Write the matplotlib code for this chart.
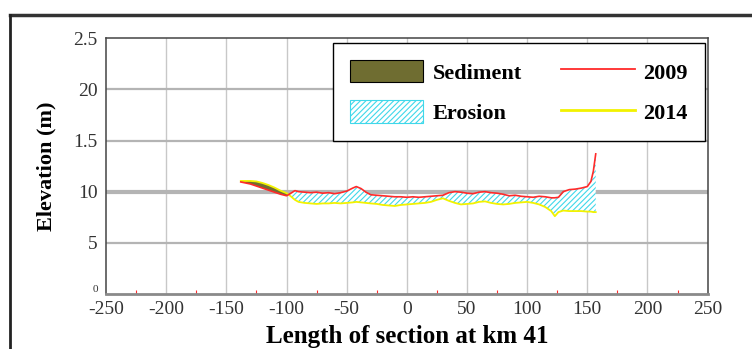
#!/usr/bin/env python3
"""Cross-section elevation at km 41: 2009 vs 2014 with sediment / erosion areas"""

import matplotlib

matplotlib.use("Agg")
import matplotlib.pyplot as plt
from matplotlib.lines import Line2D
from matplotlib.patches import Patch

# stations along the section (m) and bed elevation for each survey (m)
STATIONS = [
    -138, -130, -125, -120, -115, -110, -105, -100, -97, -93, -90, -85, -80,
    -75, -70, -65, -60, -55, -50, -45, -42, -38, -34, -30, -25, -20, -15, -10,
    -5, 0, 5, 10, 15, 20, 25, 30, 35, 40, 45, 50, 55, 60, 65, 70, 75, 80, 85,
    90, 95, 100, 105, 110, 115, 120, 123, 126, 130, 135, 140, 145, 150, 153,
    155, 157,
]
Z_2009 = [
    10.95, 10.75, 10.55, 10.35, 10.15, 9.95, 9.75, 9.6, 9.8, 10.1, 10.0, 9.95,
    9.9, 9.95, 9.85, 9.9, 9.8, 9.9, 10.05, 10.35, 10.5, 10.3, 9.95, 9.7, 9.65,
    9.6, 9.55, 9.5, 9.5, 9.45, 9.5, 9.45, 9.5, 9.55, 9.6, 9.65, 9.9, 10.0,
    9.95, 9.85, 9.8, 9.95, 10.0, 9.9, 9.85, 9.75, 9.6, 9.65, 9.55, 9.5, 9.45,
    9.55, 9.5, 9.4, 9.4, 9.45, 10.0, 10.2, 10.25, 10.35, 10.5, 11.0, 12.0,
    13.7,
]
Z_2014 = [
    11.05, 11.05, 11.0, 10.85, 10.65, 10.4, 10.1, 9.85, 9.6, 9.2, 9.0, 8.9,
    8.85, 8.8, 8.85, 8.85, 8.9, 8.85, 8.9, 8.95, 9.0, 8.95, 8.9, 8.85, 8.8,
    8.7, 8.65, 8.6, 8.7, 8.75, 8.8, 8.85, 8.9, 9.0, 9.2, 9.35, 9.1, 8.9, 8.75,
    8.8, 8.85, 9.0, 9.05, 8.9, 8.8, 8.75, 8.8, 8.9, 8.95, 9.0, 8.9, 8.75, 8.5,
    8.1, 7.6, 8.0, 8.15, 8.1, 8.1, 8.1, 8.05, 8.05, 8.0, 8.0,
]

X_TICKS = [-250, -200, -150, -100, -50, 0, 50, 100, 150, 200, 250]
X_MINOR = [-225, -175, -125, -75, -25, 25, 75, 125, 175, 225]
Y_TICKS = [0, 5, 10, 15, 20, 25]
Y_LABELS = ["0", "5", "10", "1.5", "20", "2.5"]

SERIF = ["Liberation Serif", "DejaVu Serif"]
C_2009 = "#ff2a2a"
C_2014 = "#f2f200"
C_SED = "#6f6d31"
C_ERO = "#3fd8ea"


def BuildFigure() -> plt.Figure:
    plt.rcParams["hatch.linewidth"] = 0.8
    plt.rcParams["axes.unicode_minus"] = False
    fig = plt.figure(figsize=(7.52, 3.49), dpi=100)
    ax = fig.add_axes([0.141, 0.158, 0.8, 0.732])

    ax.fill_between(
        STATIONS, Z_2009, Z_2014,
        where=[a < b for a, b in zip(Z_2009, Z_2014)],
        interpolate=True, facecolor=C_SED, edgecolor="none", zorder=2,
    )
    ax.fill_between(
        STATIONS, Z_2009, Z_2014,
        where=[a > b for a, b in zip(Z_2009, Z_2014)],
        interpolate=True, facecolor="white", edgecolor=C_ERO,
        hatch="//////", linewidth=0, zorder=2,
    )
    ax.plot(STATIONS, Z_2014, color=C_2014, linewidth=1.3, zorder=3)
    ax.plot(STATIONS, Z_2009, color=C_2009, linewidth=1.2, zorder=4)

    ax.set_xlim(-250, 250)
    ax.set_ylim(0, 25)
    ax.set_xticks(X_TICKS)
    ax.set_xticks(X_MINOR, minor=True)
    ax.set_yticks(Y_TICKS)
    ax.set_yticklabels(Y_LABELS)

    for x in X_TICKS[1:-1]:
        ax.axvline(x, color="#c8c8c8", linewidth=1.0, zorder=1)
    for y in Y_TICKS[1:-1]:
        ax.axhline(y, color="#b4b4b4", linewidth=3.0 if y == 10 else 1.6, zorder=1)

    ax.tick_params(axis="both", which="major", length=0, labelsize=14,
                   labelcolor="#333333")
    ax.tick_params(axis="x", which="major", pad=5)
    ax.tick_params(axis="y", which="major", pad=6)
    ax.tick_params(axis="x", which="minor", direction="in", length=3,
                   color=C_2009, width=0.8)
    for lab in ax.get_xticklabels() + ax.get_yticklabels():
        lab.set_family(SERIF)
    zero_lab = ax.get_yticklabels()[0]
    zero_lab.set_fontsize(8)
    zero_lab.set_verticalalignment("bottom")

    for side in ("left", "top", "right"):
        ax.spines[side].set_color("#444444")
        ax.spines[side].set_linewidth(1.1)
    ax.spines["bottom"].set_color("#8a8a8a")
    ax.spines["bottom"].set_linewidth(2.0)

    ax.set_xlabel("Length of section at km 41", family=SERIF, fontsize=18,
                  fontweight="bold", labelpad=5)
    ax.set_ylabel("Elevation (m)", family=SERIF, fontsize=16,
                  fontweight="bold", labelpad=12)

    handles = [
        Patch(facecolor=C_SED, edgecolor="black", linewidth=0.8),
        Patch(facecolor="white", edgecolor=C_ERO, hatch="//////", linewidth=0.8),
        Line2D([], [], color=C_2009, linewidth=1.3),
        Line2D([], [], color=C_2014, linewidth=2.0),
    ]
    labels = ["Sediment", "Erosion", "2009", "2014"]
    leg = ax.legend(
        handles, labels, ncol=2, loc="upper left", mode="expand",
        bbox_to_anchor=(0.378, 0.607, 0.617, 0.375), borderaxespad=0,
        prop={"family": SERIF, "weight": "bold", "size": 16},
        handlelength=3.3, handleheight=1.2, handletextpad=0.4,
        labelspacing=0.75, borderpad=0.75, columnspacing=1.0,
        fancybox=False, framealpha=1, edgecolor="black",
    )
    leg.get_frame().set_linewidth(1.0)
    leg.set_zorder(6)

    # outer frame of the scanned figure
    fig.add_artist(Line2D([0.0133, 1.0], [0.957, 0.957], color="#333333",
                          linewidth=2.5, transform=fig.transFigure))
    fig.add_artist(Line2D([0.0133, 0.0133], [0.0, 0.957], color="#222222",
                          linewidth=2.0, transform=fig.transFigure))
    return fig


def Main() -> int:
    fig = BuildFigure()
    fig.savefig("out.png", dpi=100)
    plt.close(fig)
    return 0


if __name__ == "__main__":
    raise SystemExit(Main())
